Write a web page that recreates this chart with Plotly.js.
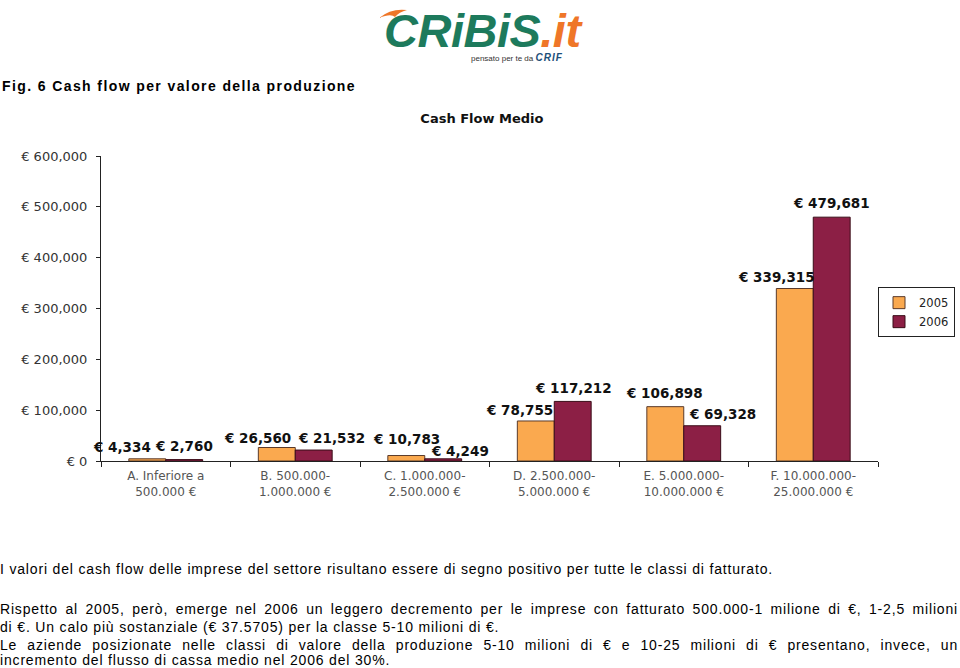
<!DOCTYPE html>
<html><head><meta charset="utf-8">
<script src="https://cdn.plot.ly/plotly-3.0.1.min.js"></script>
<style>
html,body{margin:0;padding:0;background:#fff}
body{width:960px;height:668px;overflow:hidden;position:relative;font-family:"Liberation Sans",Arial,sans-serif;color:#000}
#logo{position:absolute;left:383px;top:4px;width:210px;height:60px}
#logo .main{position:absolute;left:1px;top:9px;font:italic bold 47px "Liberation Sans",Arial,sans-serif;line-height:36px;height:36px;color:#1d7a5c;letter-spacing:-0.5px;white-space:nowrap}
#logo .main span{color:#ef7628}
#logo .sub{position:absolute;left:88px;top:48px;font:8px "Liberation Sans",Arial,sans-serif;line-height:10px;color:#333;white-space:nowrap}
#logo .sub b{font:italic bold 10px "Liberation Sans",Arial,sans-serif;color:#1d4f7a;letter-spacing:1px}
#cap{position:absolute;left:2px;top:78px;font:bold 14px "Liberation Sans",Arial,sans-serif;white-space:nowrap}
#chart{position:absolute;left:0;top:95px;width:960px;height:420px}
.ln{position:absolute;left:0;width:958px;font:14px "Liberation Sans Narrow","Liberation Sans",Arial,sans-serif;white-space:nowrap;line-height:18px}
.j{text-align:justify;text-align-last:justify;white-space:normal}
</style></head><body>
<div id="logo">
  <svg width="40" height="20" style="position:absolute;left:-6px;top:0px"><path d="M2 14 Q14 4 30 6 Q22 8 18 13 Q14 9 2 14 Z" fill="#ef7628"/></svg>
  <div class="main">CRiBiS<span>.it</span></div>
  <div class="sub">pensato per te da <b>CRIF</b></div>
</div>
<div id="cap">Fig. 6 Cash flow per valore della produzione</div>
<div id="chart"></div>
<div class="ln" id="l1" style="top:560px"><span>I valori del cash flow delle imprese del settore risultano essere di segno positivo per tutte le classi di fatturato.</span></div>
<div class="ln j" id="l2" style="top:600px">Rispetto al 2005, però, emerge nel 2006 un leggero decremento per le imprese con fatturato 500.000-1 milione di €, 1-2,5 milioni</div>
<div class="ln" id="l3" style="top:618px">di €. Un calo più sostanziale (€ 37.5705) per la classe 5-10 milioni di €.</div>
<div class="ln j" id="l4" style="top:636px">Le aziende posizionate nelle classi di valore della produzione 5-10 milioni di € e 10-25 milioni di € presentano, invece, un</div>
<div class="ln" id="l5" style="top:651px">incremento del flusso di cassa medio nel 2006 del 30%.</div>
<script>
// ---- data ----
const categories = [
  "A. Inferiore a<br>500.000 €",
  "B. 500.000-<br>1.000.000 €",
  "C. 1.000.000-<br>2.500.000 €",
  "D. 2.500.000-<br>5.000.000 €",
  "E. 5.000.000-<br>10.000.000 €",
  "F. 10.000.000-<br>25.000.000 €"
];
const seriesNames = ["2005", "2006"];
const values2005 = [4334, 26560, 10783, 78755, 106898, 339315];
const values2006 = [2760, 21532, 4249, 117212, 69328, 479681];
const yTickVals = [0, 100000, 200000, 300000, 400000, 500000, 600000];
const yTickText = ["€ 0", "€ 100,000", "€ 200,000", "€ 300,000", "€ 400,000", "€ 500,000", "€ 600,000"];

// ---- styling (label placement offsets, px) ----
const labelDx2005 = [-44, -38, -18, -35, -19, -37];
const labelDx2006 = [18, 36, 35, 19, 39, 18];
const labelDy2005 = [12, 10, 17, 11, 14, 12];
const labelDy2006 = [14, 12, 8, 13, 12, 14];

const fmt = v => "€ " + v.toLocaleString("en-US");
const chartFont = '"DejaVu Sans", Verdana, sans-serif';

const traces = [
  {type:"bar", name:seriesNames[0], x:categories, y:values2005,
   marker:{color:"#faa94f", line:{color:"#5a3a2a", width:1}}, hoverinfo:"skip"},
  {type:"bar", name:seriesNames[1], x:categories, y:values2006,
   marker:{color:"#8c1f45", line:{color:"#3a0d18", width:1}}, hoverinfo:"skip"}
];

const annotations = [];
[[values2005, labelDx2005, labelDy2005], [values2006, labelDx2006, labelDy2006]].forEach(([vals, dx, dy]) => {
  vals.forEach((v, i) => {
    annotations.push({x:categories[i], y:v, xref:"x", yref:"y", text:fmt(v), showarrow:false,
      xanchor:"center", yanchor:"middle", xshift:dx[i], yshift:dy[i],
      font:{family:chartFont, size:13.5, color:"#111", weight:"bold"}});
  });
});

const layout = {
  width:960, height:420,
  margin:{l:101, r:82, t:61, b:54, autoexpand:false},
  paper_bgcolor:"#fff", plot_bgcolor:"#fff",
  title:{text:"<b>Cash Flow Medio</b>", x:0.502, xanchor:"center", y:0.945, yanchor:"middle",
         font:{family:chartFont, size:13, color:"#111"}},
  barmode:"group", bargap:0.43, bargroupgap:0,
  showlegend:true,
  legend:{x:1.0, xanchor:"left", y:0.57, yanchor:"top", bordercolor:"#222", borderwidth:1,
          bgcolor:"#fff", font:{family:chartFont, size:11.5, color:"#222"}, tracegroupgap:0,
          itemwidth:30},
  xaxis:{type:"category", range:[-0.5, categories.length - 0.5], autorange:false,
         showline:true, linecolor:"#222", linewidth:1, ticks:"outside", ticklen:5,
         tickcolor:"#222", tickson:"boundaries", showgrid:false, zeroline:false, fixedrange:true,
         ticklabelstandoff:4, tickfont:{family:chartFont, size:12, color:"#555"}},
  yaxis:{range:[0,600000], autorange:false, tickvals:yTickVals, ticktext:yTickText, showline:true, linecolor:"#222",
         linewidth:1, ticks:"outside", ticklen:4, tickcolor:"#222", showgrid:false, zeroline:false,
         fixedrange:true, ticklabelstandoff:6, tickfont:{family:chartFont, size:13, color:"#333"}},
  annotations:annotations
};

Plotly.newPlot("chart", traces, layout, {displayModeBar:false, staticPlot:true});

// fit text widths to the reference layout
function fitSpan(el, target){
  el.style.letterSpacing = "0px";
  const w = el.getBoundingClientRect().width;
  const n = el.textContent.length;
  const ls = (target - w) / n;
  el.style.letterSpacing = ls + "px";
  return ls;
}
fitSpan(document.getElementById("cap"), 354);
const ls = fitSpan(document.querySelector("#l1 span"), 773);
["l2","l3","l4","l5"].forEach(id => document.getElementById(id).style.letterSpacing = ls + "px");
</script>
</body></html>
